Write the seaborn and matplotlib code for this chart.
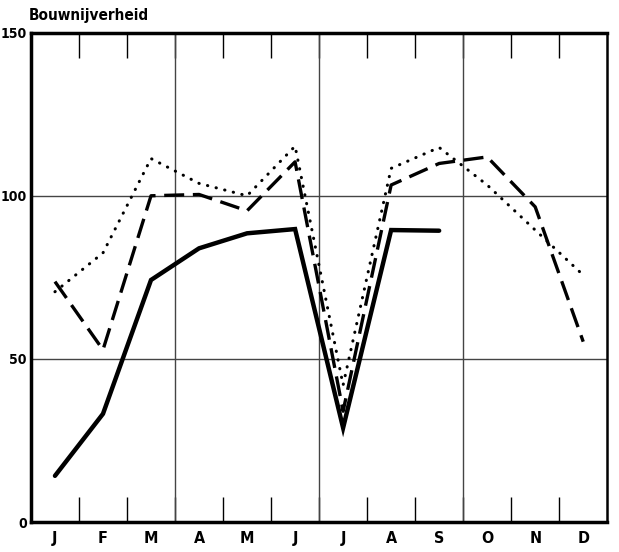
import numpy as np
import pandas as pd
import matplotlib
matplotlib.use("Agg")
import matplotlib.pyplot as plt
import seaborn as sns

# months and the three series (index)
months = ["J", "F", "M", "A", "M", "J", "J", "A", "S", "O", "N", "D"]
solid_vals = [14.2, 33.2, 74.2, 83.9, 88.5, 89.8, 28.9, 89.5, 89.3, np.nan, np.nan, np.nan]
dashed_vals = [73.7, 52.8, 100.0, 100.4, 95.4, 110.4, 34.0, 103.3, 109.9, 111.9, 96.6, 55.3]
dotted_vals = [70.6, 82.5, 111.4, 103.8, 100.0, 115.2, 42.0, 108.4, 114.8, 103.3, 89.5, 75.7]
yticks = [0, 50, 100, 150]
title = "Bouwnijverheid"

df = pd.DataFrame({"pos": np.arange(len(months)), "solid": solid_vals,
                   "dashed": dashed_vals, "dotted": dotted_vals})

sns.set_style("white")
plt.rcParams['font.family'] = ['DejaVu Sans']
plt.rcParams['font.stretch'] = 'condensed'
plt.rcParams['text.color'] = 'black'
plt.rcParams['xtick.color'] = 'black'
plt.rcParams['ytick.color'] = 'black'

fig = plt.figure(figsize=(6.19, 5.52), dpi=100)
ax = fig.add_axes([0.050, 0.054, 0.931, 0.887])

# grid: horizontal at 50/100, vertical at quarter boundaries
for y in [50, 100]:
    ax.axhline(y, color="#444444", lw=1.0, zorder=1)
for x in [2.5, 5.5, 8.5]:
    ax.axvline(x, color="#444444", lw=1.0, zorder=1)

sns.lineplot(data=df, x="pos", y="solid", ax=ax, color="black", lw=3.2,
             solid_capstyle="round", solid_joinstyle="miter", zorder=3)
l2 = sns.lineplot(data=df, x="pos", y="dashed", ax=ax, color="black", lw=2.4,
                  zorder=3).lines[-1]
l2.set_dashes((6, 2.6))
l3 = sns.lineplot(data=df, x="pos", y="dotted", ax=ax, color="black", lw=2.2,
                  zorder=3).lines[-1]
l3.set_dashes((0.1, 2.8))
l3.set_dash_capstyle("round")

ax.set_xlim(-0.5, 11.5)
ax.set_ylim(0, 150)
ax.set_xlabel("")
ax.set_ylabel("")

ax.set_xticks(np.arange(len(months)))
ax.set_xticklabels(months, fontsize=11.5, fontweight="bold", fontstretch="condensed")
ax.set_xticks(np.arange(0.5, 11, 1), minor=True)
ax.tick_params(axis="x", which="major", length=0, pad=6)
ax.tick_params(axis="x", which="minor", direction="in", length=18, width=1.0,
               top=True, bottom=True, color="black")

ax.set_yticks(yticks)
ax.set_yticklabels([str(v) for v in yticks], fontsize=10, fontweight="bold",
                   fontstretch="condensed")
ax.tick_params(axis="y", length=0, pad=3)

for side, w in [("left", 2.5), ("top", 2.5), ("bottom", 2.5), ("right", 1.8)]:
    ax.spines[side].set_visible(True)
    ax.spines[side].set_linewidth(w)
    ax.spines[side].set_color("black")

fig.text(0.046, 0.958, title, fontsize=11, fontweight="bold",
         fontstretch="condensed", ha="left", va="bottom")

fig.savefig("out.png", dpi=100)
